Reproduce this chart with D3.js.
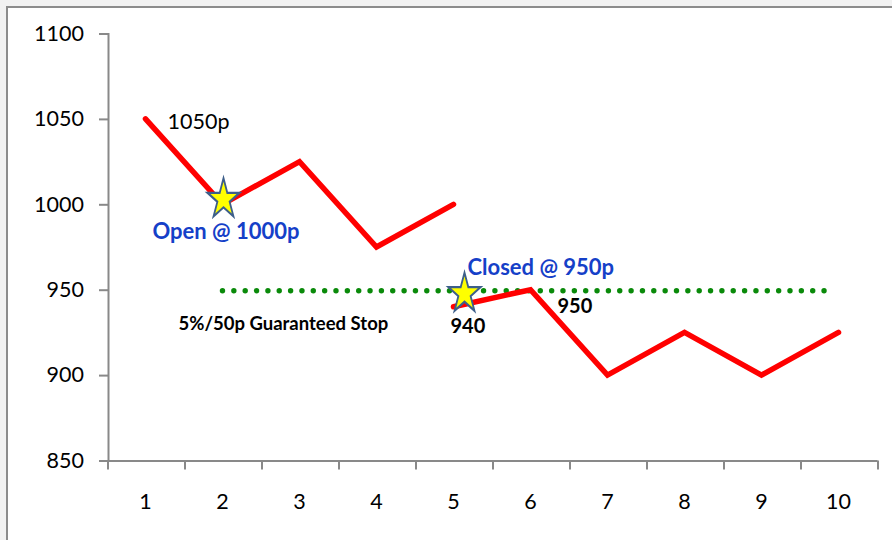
<!DOCTYPE html>
<html>
<head>
<meta charset="utf-8">
<script src="https://cdn.jsdelivr.net/npm/d3@7"></script>
<style>
  html, body { margin: 0; padding: 0; background: #f2f2f2; }
  svg { display: block; font-family: Lato, "Open Sans", sans-serif; }
</style>
</head>
<body>
<svg id="chart" width="892" height="540"></svg>
<script>
'use strict'

const days = [1, 2, 3, 4, 5, 6, 7, 8, 9, 10]
const yTicks = [850, 900, 950, 1000, 1050, 1100]
const beforeDays = [1, 2, 3, 4, 5]
const beforePrices = [1050, 1000, 1025, 975, 1000]
const afterDays = [5, 6, 7, 8, 9, 10]
const afterPrices = [940, 950, 900, 925, 900, 925]
const stopLevel = 950
const stopFrom = 2, stopTo = 10

const svg = d3.select('#chart')

// frame (runs off the right and bottom edges)
svg.append('rect')
  .attr('x', 7).attr('y', 7)
  .attr('width', 900).attr('height', 560)
  .attr('fill', '#ffffff')
  .attr('stroke', '#8c8c8c')
  .attr('stroke-width', 2)

const x = d3.scaleBand()
  .domain(days)
  .range([107, 877])

const y = d3.scaleLinear()
  .domain([850, 1100])
  .range([460.5, 33.5])

const cx = d => x(d) + x.bandwidth() / 2

// axes
const yAxis = svg.append('g')
  .attr('transform', 'translate(108,0)')
  .call(d3.axisLeft(y).tickValues(yTicks).tickSize(9).tickPadding(15).tickFormat(d3.format('d')))
const xAxis = svg.append('g')
  .attr('transform', `translate(0,${y(850)})`)
  .call(d3.axisBottom(x).tickSize(0).tickPadding(33))

for (const ax of [yAxis, xAxis]) {
  ax.select('.domain').attr('stroke', '#898989').attr('stroke-width', 2)
  ax.selectAll('.tick line').attr('stroke', '#898989').attr('stroke-width', 2)
  ax.selectAll('.tick text')
    .attr('fill', '#000')
    .style('font-family', 'Lato, sans-serif')
    .style('font-size', '21.5px')
}

// category boundary ticks on the x axis
svg.append('g')
  .selectAll('line')
  .data(days.concat([11]))
  .join('line')
    .attr('x1', (d, i) => x.range()[0] + i * x.bandwidth() + 1)
    .attr('x2', (d, i) => x.range()[0] + i * x.bandwidth() + 1)
    .attr('y1', y(850))
    .attr('y2', y(850) + 9)
    .attr('stroke', '#898989')
    .attr('stroke-width', 2)

// stop line
const stopDots = d3.range(cx(stopFrom), cx(stopTo) - 8, 11.35)
svg.append('g')
  .selectAll('circle')
  .data(stopDots)
  .join('circle')
    .attr('cx', d => d)
    .attr('cy', y(stopLevel) + 1)
    .attr('r', 2.7)
    .attr('fill', '#0a8a0a')

// price lines
const line = d3.line()
  .x(d => cx(d[0]))
  .y(d => y(d[1]))

for (const [ds, ps] of [[beforeDays, beforePrices], [afterDays, afterPrices]]) {
  svg.append('path')
    .datum(d3.zip(ds, ps))
    .attr('fill', 'none')
    .attr('stroke', '#ff0000')
    .attr('stroke-width', 5.5)
    .attr('stroke-linecap', 'round')
    .attr('stroke-linejoin', 'miter')
    .attr('d', line)
}

// stars
const star = d3.symbol().type(d3.symbolStar).size(320)
svg.append('g')
  .selectAll('path')
  .data([[2, 1000, 1, -5], [5, 950, 11, 4]])
  .join('path')
    .attr('transform', d => `translate(${cx(d[0]) + d[2]},${y(d[1]) + d[3]}) scale(1,1.25)`)
    .attr('d', star)
    .attr('fill', '#ffff00')
    .attr('stroke', '#3d5f8a')
    .attr('stroke-width', 1.8)

// annotations
const notes = [
  { text: '1050p', x: cx(1) + 22, y: y(1050) + 10, size: 21.5, weight: 400, fill: '#000' },
  { text: 'Open @ 1000p', x: cx(2) - 70, y: y(1000) + 35, size: 22, weight: 700, fill: '#1540c8' },
  { text: 'Closed @ 950p', x: cx(5) + 14, y: y(950) - 15, size: 22, weight: 700, fill: '#1540c8' },
  { text: '950', x: cx(6) + 27, y: y(950) + 23, size: 20, weight: 700, fill: '#000' },
  { text: '940', x: cx(5) - 3, y: y(940) + 26, size: 20, weight: 700, fill: '#000' },
  { text: '5%/50p Guaranteed Stop', x: cx(2) - 44, y: y(950) + 40, size: 18.5, weight: 700, fill: '#000' }
]
svg.append('g')
  .selectAll('text')
  .data(notes)
  .join('text')
    .attr('x', d => d.x)
    .attr('y', d => d.y)
    .attr('fill', d => d.fill)
    .style('font-size', d => d.size + 'px')
    .style('font-weight', d => d.weight)
    .text(d => d.text)
</script>
</body>
</html>
